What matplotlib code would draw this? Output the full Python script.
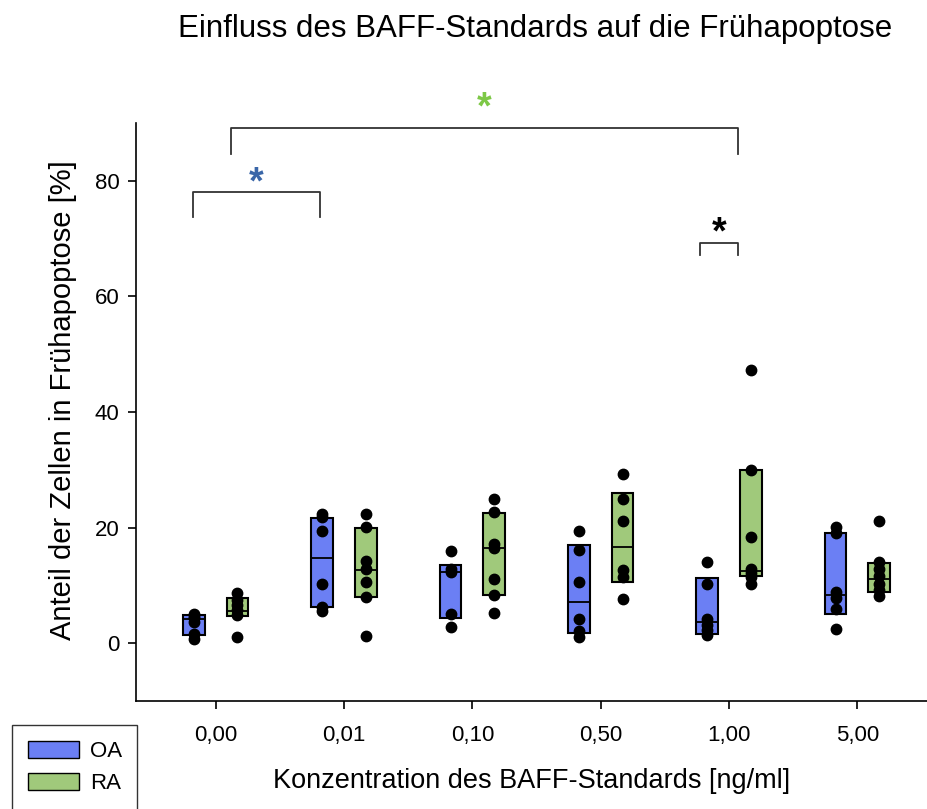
import numpy as np
import matplotlib.pyplot as plt
from matplotlib.patches import Patch

plt.rcParams['font.family'] = ['Liberation Sans', 'DejaVu Sans']

concentrations = ["0,00", "0,01", "0,10", "0,50", "1,00", "5,00"]

# single measurements per concentration
oa_points = [
    [0.8, 1.6, 3.6, 4.3, 4.7, 5.1],
    [5.6, 6.3, 10.3, 19.4, 21.8, 22.3],
    [2.8, 5.1, 12.3, 12.8, 15.9],
    [1.0, 2.1, 4.1, 10.5, 16.1, 19.4],
    [1.5, 2.3, 3.2, 4.2, 10.3, 14.1],
    [2.4, 6.0, 7.8, 8.8, 19.1, 20.1],
]
ra_points = [
    [1.1, 4.8, 5.7, 6.6, 7.5, 8.6],
    [1.2, 8.0, 10.5, 12.8, 14.2, 20.1, 22.4],
    [5.2, 8.3, 11.1, 16.5, 17.1, 22.7, 25.0],
    [7.6, 11.4, 12.6, 21.1, 25.0, 29.2],
    [10.2, 11.4, 12.2, 12.8, 18.3, 30.0, 47.3],
    [8.2, 9.2, 10.2, 11.6, 12.8, 14.1, 21.1],
]

# box statistics (25th percentile, median, 75th percentile)
oa_q1 = [1.4, 6.2, 4.4, 1.7, 1.6, 5.0]
oa_med = [4.1, 14.8, 12.3, 7.2, 3.6, 8.3]
oa_q3 = [4.9, 21.7, 13.5, 16.9, 11.2, 19.1]
ra_q1 = [4.7, 8.0, 8.3, 10.5, 11.6, 8.8]
ra_med = [5.5, 12.7, 16.5, 16.7, 12.5, 11.1]
ra_q3 = [7.9, 19.9, 22.6, 26.0, 30.0, 13.8]

blue = "#6b7ff4"
green = "#a0c97b"

fig = plt.figure(figsize=(9.28, 8.09), dpi=100)
ax = fig.add_axes([0.1466, 0.1335, 0.8534, 0.7146])

x = np.arange(len(concentrations))
off = 0.17
w = 0.17


def draw_group(pos, q1, med, q3, pts, color):
    q1 = np.array(q1)
    q3 = np.array(q3)
    ax.bar(pos, q3 - q1, bottom=q1, width=w, color=color,
           edgecolor="black", linewidth=1.5, zorder=2)
    ax.hlines(med, pos - w / 2, pos + w / 2, color="black", linewidth=1.3, zorder=3)
    for p, vals in zip(pos, pts):
        ax.scatter([p] * len(vals), vals, s=56, color="black", zorder=4)


draw_group(x - off, oa_q1, oa_med, oa_q3, oa_points, blue)
draw_group(x + off, ra_q1, ra_med, ra_q3, ra_points, green)

ax.set_xlim(-0.62, 5.55)
ax.set_ylim(-10, 90)
ax.set_xticks(x)
ax.set_xticklabels(concentrations, fontsize=16)
ax.set_yticks([0, 20, 40, 60, 80])
ax.tick_params(axis="y", labelsize=16, length=6, width=1.2, pad=6)
ax.tick_params(axis="x", length=6, width=1.2, pad=11)
for side in ["top", "right"]:
    ax.spines[side].set_visible(False)
for side in ["left", "bottom"]:
    ax.spines[side].set_linewidth(1.2)

ax.set_xlabel("Konzentration des BAFF-Standards [ng/ml]", fontsize=19.5, labelpad=16)
ax.set_ylabel("Anteil der Zellen in Frühapoptose [%]", fontsize=21)
ax.yaxis.set_label_coords(-0.074, 0.52)
fig.text(0.577, 0.964, "Einfluss des BAFF-Standards auf die Frühapoptose",
         fontsize=22.5, ha="center", va="center")


def bracket(x0, x1, y_top, y_leg, star_y, color):
    ax.plot([x0, x0, x1, x1], [y_leg, y_top, y_top, y_leg], color="#333333",
            linewidth=1.3, clip_on=False)
    ax.text((x0 + x1) / 2, star_y, "*", color=color, fontsize=27,
            ha="center", va="center", fontweight="bold", clip_on=False)


bracket(0.12, 4.07, 89.2, 84.7, 92.5, "#7dc846")
bracket(-0.18, 0.81, 78.1, 73.8, 79.5, "#3a66a8")
bracket(3.77, 4.07, 69.3, 67.2, 70.8, "black")

handles = [Patch(facecolor=blue, edgecolor="black", label="OA"),
           Patch(facecolor=green, edgecolor="black", label="RA")]
leg = fig.legend(handles=handles, loc="upper left",
                 bbox_to_anchor=(12 / 928, 1 - 725 / 809), fontsize=16,
                 frameon=True, fancybox=False, edgecolor="black",
                 handlelength=2.3, handleheight=0.8, borderpad=0.7,
                 borderaxespad=0, labelspacing=0.5, handletextpad=0.5)
leg.get_frame().set_linewidth(1.0)

fig.savefig("out.png", dpi=100)
